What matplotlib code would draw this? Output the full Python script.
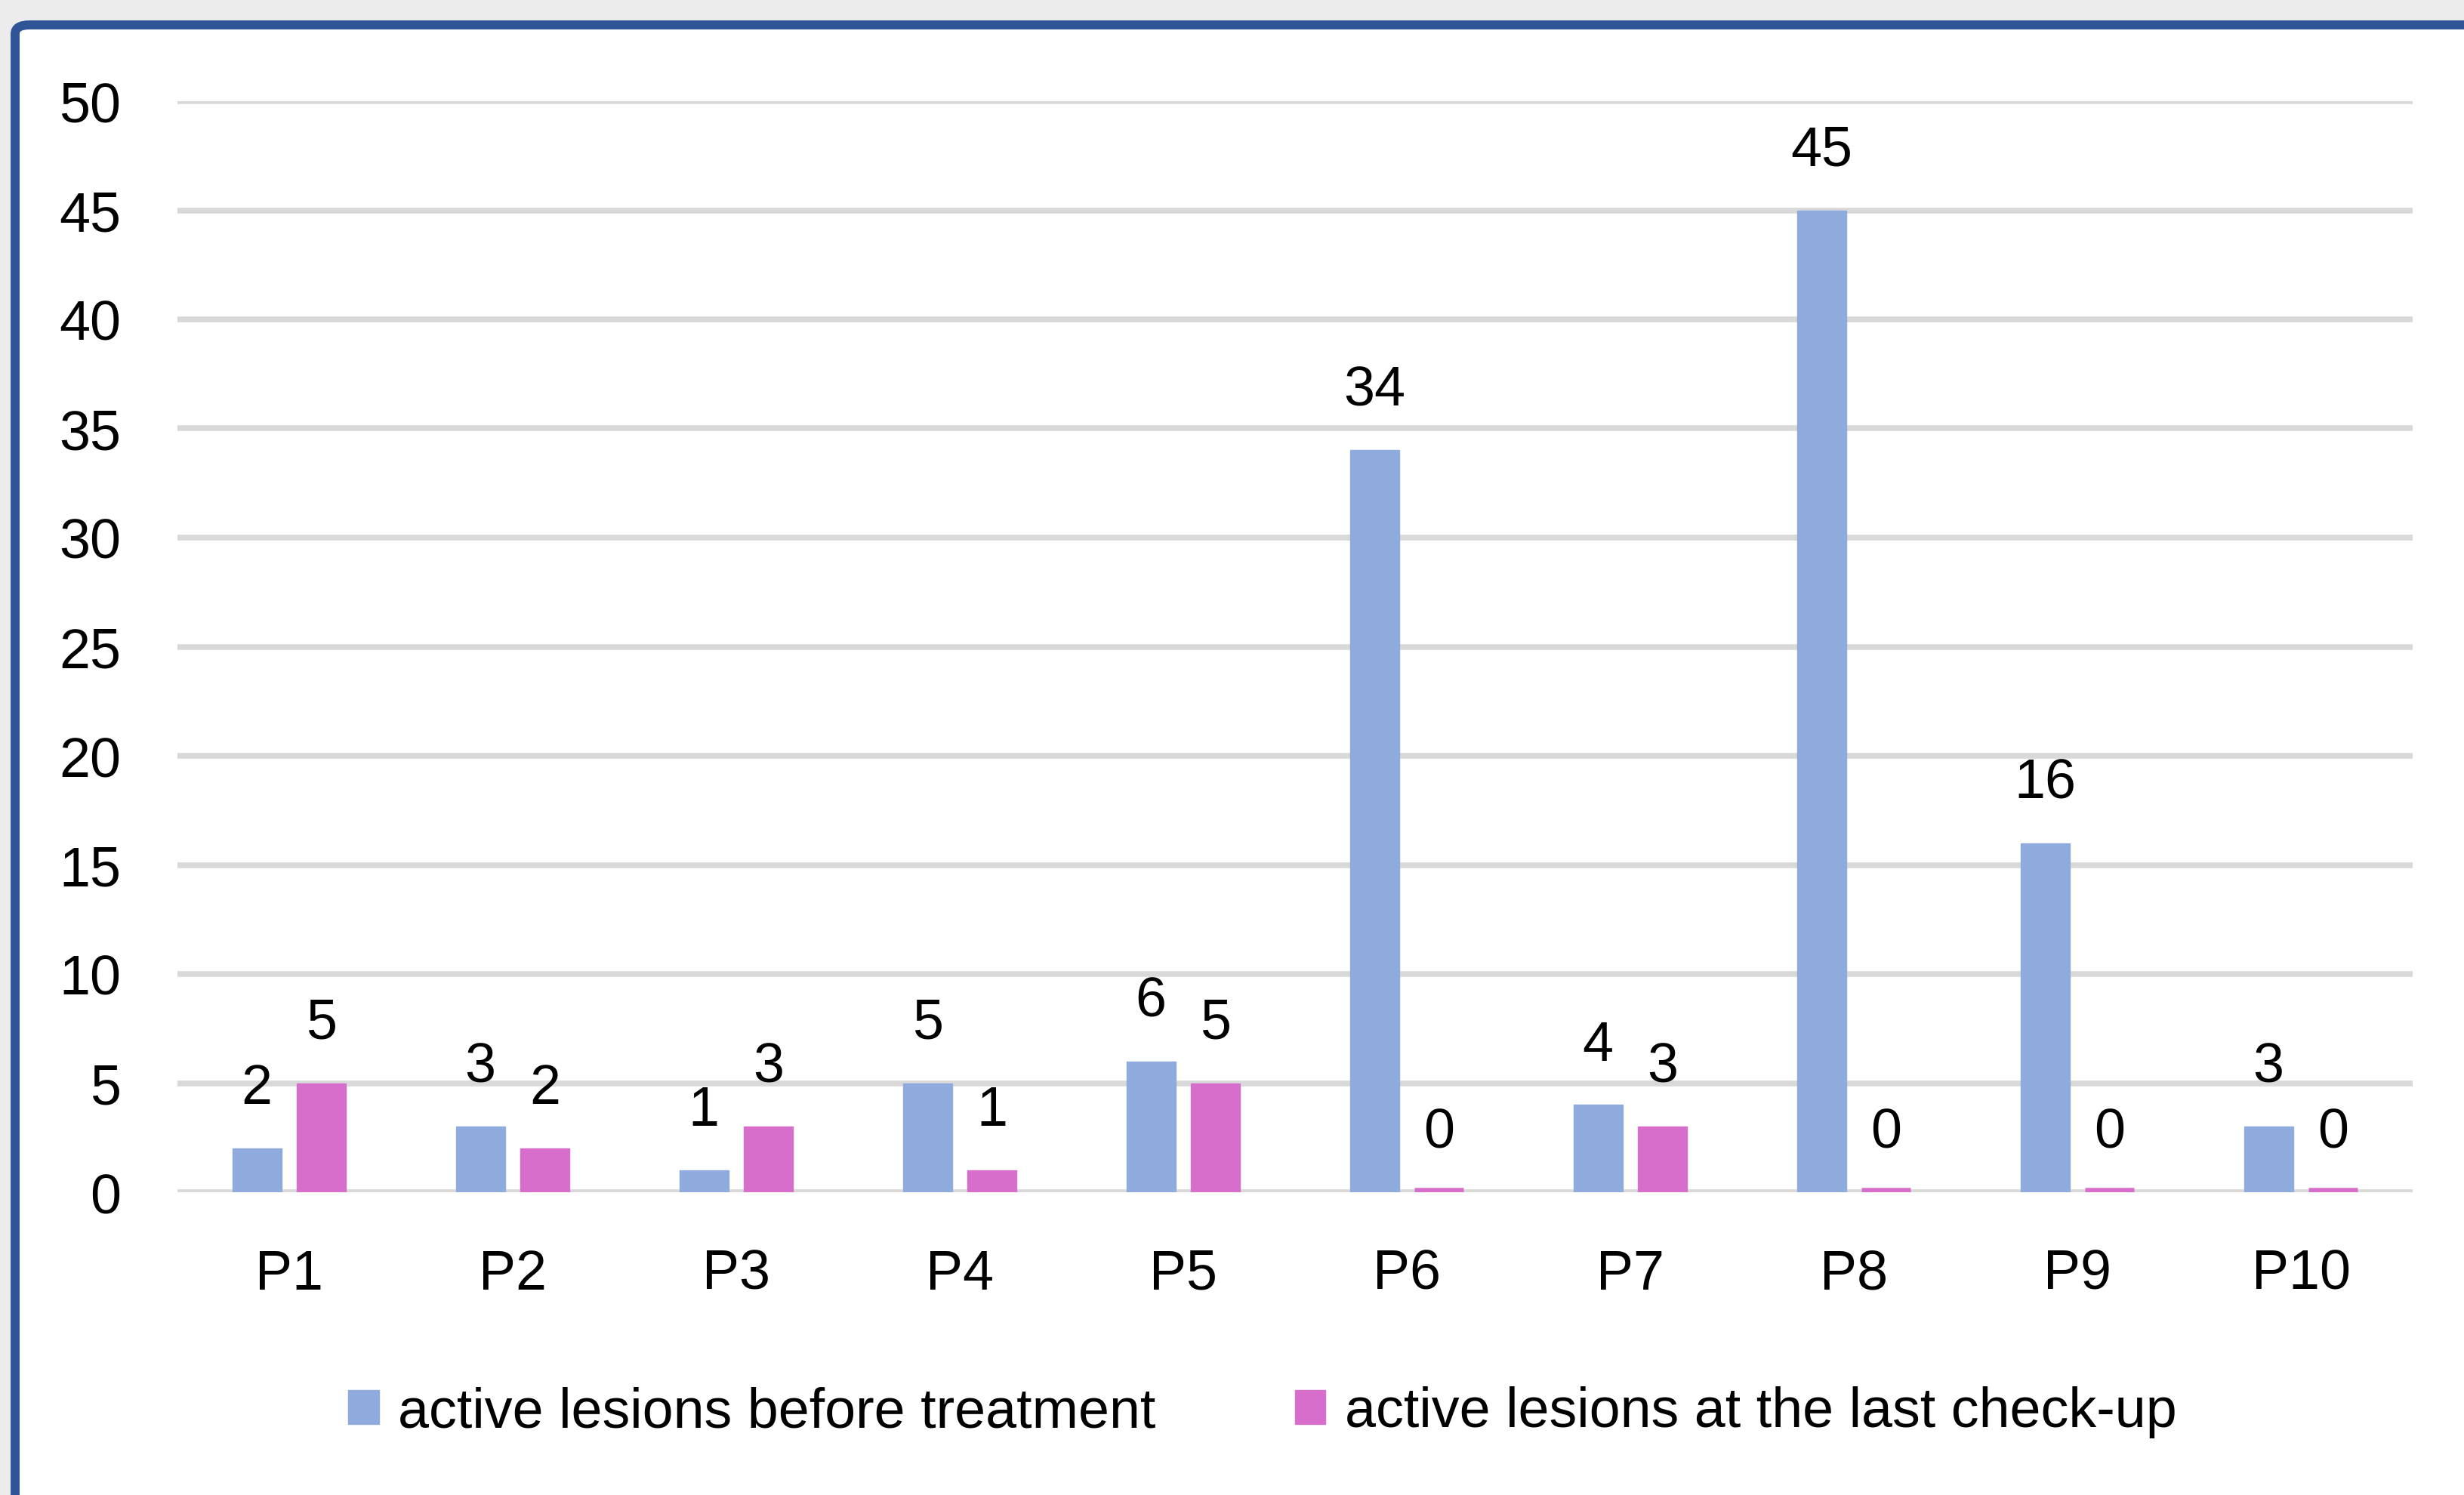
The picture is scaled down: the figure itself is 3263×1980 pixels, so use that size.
import numpy as np
import matplotlib
matplotlib.use("Agg")
import matplotlib.pyplot as plt
from matplotlib.patches import FancyBboxPatch, Patch

patients = ["P1", "P2", "P3", "P4", "P5", "P6", "P7", "P8", "P9", "P10"]
before = [2, 3, 1, 5, 6, 34, 4, 45, 16, 3]
last_checkup = [5, 2, 3, 1, 5, 0, 3, 0, 0, 0]
series_names = ["active lesions before treatment", "active lesions at the last check-up"]
yticks = [0, 5, 10, 15, 20, 25, 30, 35, 40, 45, 50]

blue = "#8faadc"
pink = "#d86ecb"
grid_col = "#d9d9d9"

plt.rcParams["font.family"] = ["Liberation Sans", "DejaVu Sans"]

W, H = 3263, 1981
fig = plt.figure(figsize=(W / 100, H / 100), dpi=100)
fig.patch.set_facecolor("#ececec")

# white card with blue frame running off the right and bottom edges
card = FancyBboxPatch((20 / W, -0.05), 1.05, 1 - 34 / H + 0.05,
                      boxstyle="round,pad=0,rounding_size=0.006",
                      transform=fig.transFigure, facecolor="white",
                      edgecolor="#2f5597", linewidth=8.6, zorder=-5)
fig.patches.append(card)

ax = fig.add_axes([235 / W, 1 - 1580 / H, (3195 - 235) / W, (1580 - 135) / H])
ax.set_facecolor("none")
ax.set_zorder(2)

x = np.arange(len(patients))
w = 0.22
off = 0.145
b1 = ax.bar(x - off, before, w, color=blue, edgecolor=blue, linewidth=1, zorder=3)
# zero-height bars still get a visible stub from a thick edge
pink_lw = [9 if v == 0 else 1 for v in last_checkup]
b2 = ax.bar(x + off, last_checkup, w, color=pink, edgecolor=pink, linewidth=pink_lw, zorder=3)

for bars, vals in ((b1, before), (b2, last_checkup)):
    for r, v in zip(bars, vals):
        ax.annotate(str(v), (r.get_x() + r.get_width() / 2, v),
                    xytext=(0, 43), textcoords="offset points",
                    ha="center", va="baseline", fontsize=53, color="black")

ax.set_ylim(0, 50)
ax.set_xlim(-0.5, len(patients) - 0.5)
ax.set_yticks(yticks)
ax.set_xticks(x)
ax.set_xticklabels(patients)
ax.yaxis.grid(True, color=grid_col, linewidth=5.5, zorder=0)
ax.set_axisbelow(True)
for s in ax.spines.values():
    s.set_visible(False)
ax.tick_params(axis="both", length=0, labelsize=53, colors="black")
ax.tick_params(axis="y", pad=54)
ax.tick_params(axis="x", pad=53)

handles = [Patch(facecolor=blue, edgecolor=blue), Patch(facecolor=pink, edgecolor=pink)]
fig.legend(handles, series_names, loc="center", bbox_to_anchor=(1672 / W, 1 - 1871 / H),
           ncol=2, frameon=False, prop={"size": 53},
           handlelength=0.55, handleheight=0.55, handletextpad=0.35, columnspacing=2.5)

fig.savefig("out.png", dpi=100, facecolor=fig.get_facecolor())
